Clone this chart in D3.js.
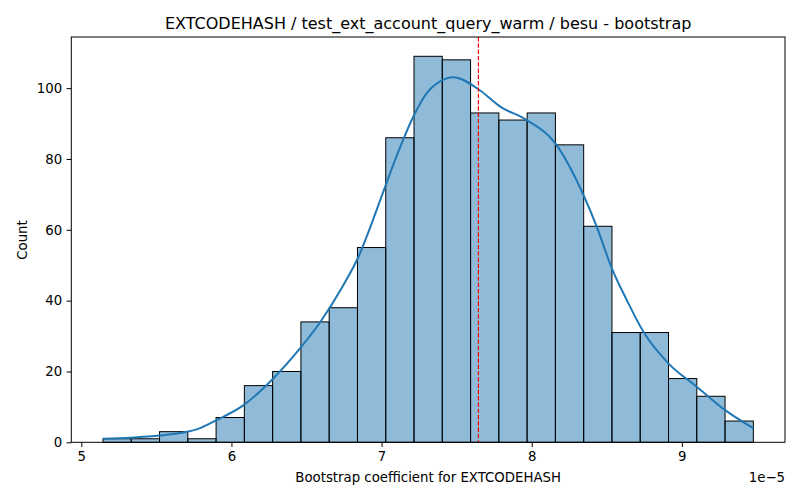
<!DOCTYPE html>
<html><head><meta charset="utf-8">
<script src="https://cdn.jsdelivr.net/npm/d3@7"></script>
<style>body{margin:0;background:#fff}svg{display:block}text{font-family:"DejaVu Sans",sans-serif;fill:#000}</style>
</head><body><svg id="c" width="800" height="500"></svg>
<script>
// Data (x values in units of 1e-5)
const counts = [1,1,3,1,7,16,20,34,38,55,86,109,108,93,91,93,84,61,31,31,18,13,6];
const binStart = 5.1445;
const binWidth = 0.18833;
const kdeX = [5.144,5.33,5.526,5.659,5.792,5.903,6.081,6.280,6.458,6.591,6.746,6.846,6.935,7.024,7.102,7.212,7.301,7.390,7.479,7.645,7.790,7.967,8.156,8.344,8.433,8.533,8.633,8.744,8.910,9.099,9.288,9.476];
const kdeY = [1.0,1.3,1.9,2.6,4.0,6.3,10.5,18.1,26.6,33.9,44.4,52.4,61.9,72.2,81.0,92.0,98.6,101.9,103.1,99.7,94.8,91.0,84.5,69.9,60.9,49.2,40.2,31.2,22.3,15.7,9.1,4.0];
const meanLine = 7.645;
const xTicks = [5,6,7,8,9];
const yTicks = [0,20,40,60,80,100];
const title = "EXTCODEHASH / test_ext_account_query_warm / besu - bootstrap";
const xLabel = "Bootstrap coefficient for EXTCODEHASH";
const yLabel = "Count";
const offsetText = "1e\u22125";

const L=71.3, R=785, T=37, B=442.3;
const svg = d3.select("#c");
const x = d3.scaleLinear().domain([4.9335,9.687]).range([L,R]);
const y = d3.scaleLinear().domain([0,114.45]).range([B,T]);

const g = svg.append("g");
// bars
g.selectAll("rect.bar").data(counts).join("rect")
  .attr("x",(d,i)=>x(binStart+i*binWidth))
  .attr("width",(d,i)=>x(binStart+(i+1)*binWidth)-x(binStart+i*binWidth))
  .attr("y",d=>y(d)).attr("height",d=>y(0)-y(d))
  .attr("fill","rgba(31,119,180,0.5)").attr("stroke","#000").attr("stroke-width",1);

// kde
const pts = kdeX.map((v,i)=>[v,kdeY[i]]);
g.append("path").datum(pts)
  .attr("d",d3.line().x(d=>x(d[0])).y(d=>y(d[1])).curve(d3.curveMonotoneX))
  .attr("fill","none").attr("stroke","#1f77b4").attr("stroke-width",2);

// mean line
g.append("line").attr("x1",x(meanLine)).attr("x2",x(meanLine)).attr("y1",T).attr("y2",B)
  .attr("stroke","red").attr("stroke-width",1.2).attr("stroke-dasharray","4.4,1.9");

// frame
svg.append("rect").attr("x",L).attr("y",T).attr("width",R-L).attr("height",B-T)
  .attr("fill","none").attr("stroke","#000").attr("stroke-width",1);

// axes
const xa = svg.append("g").attr("transform",`translate(0,${B})`)
  .call(d3.axisBottom(x).tickValues(xTicks).tickFormat(d3.format("d")).tickSize(4.7).tickPadding(4.5));
const ya = svg.append("g").attr("transform",`translate(${L},0)`)
  .call(d3.axisLeft(y).tickValues(yTicks).tickFormat(d3.format("d")).tickSize(4.7).tickPadding(4.5));
[xa,ya].forEach(a=>{a.select(".domain").remove();
  a.selectAll("line").attr("stroke","#000").attr("stroke-width",1);
  a.selectAll("text").attr("font-size","13.3px").attr("font-family","DejaVu Sans").attr("fill","#000");});

svg.append("text").attr("x",(L+R)/2).attr("y",29).attr("text-anchor","middle").attr("font-size","16px").text(title);
svg.append("text").attr("x",(L+R)/2).attr("y",482).attr("text-anchor","middle").attr("font-size","13.3px").text(xLabel);
svg.append("text").attr("transform","translate(27,240) rotate(-90)").attr("text-anchor","middle").attr("font-size","13.3px").text(yLabel);
svg.append("text").attr("x",R).attr("y",482).attr("text-anchor","end").attr("font-size","13.3px").text(offsetText);
</script></body></html>
